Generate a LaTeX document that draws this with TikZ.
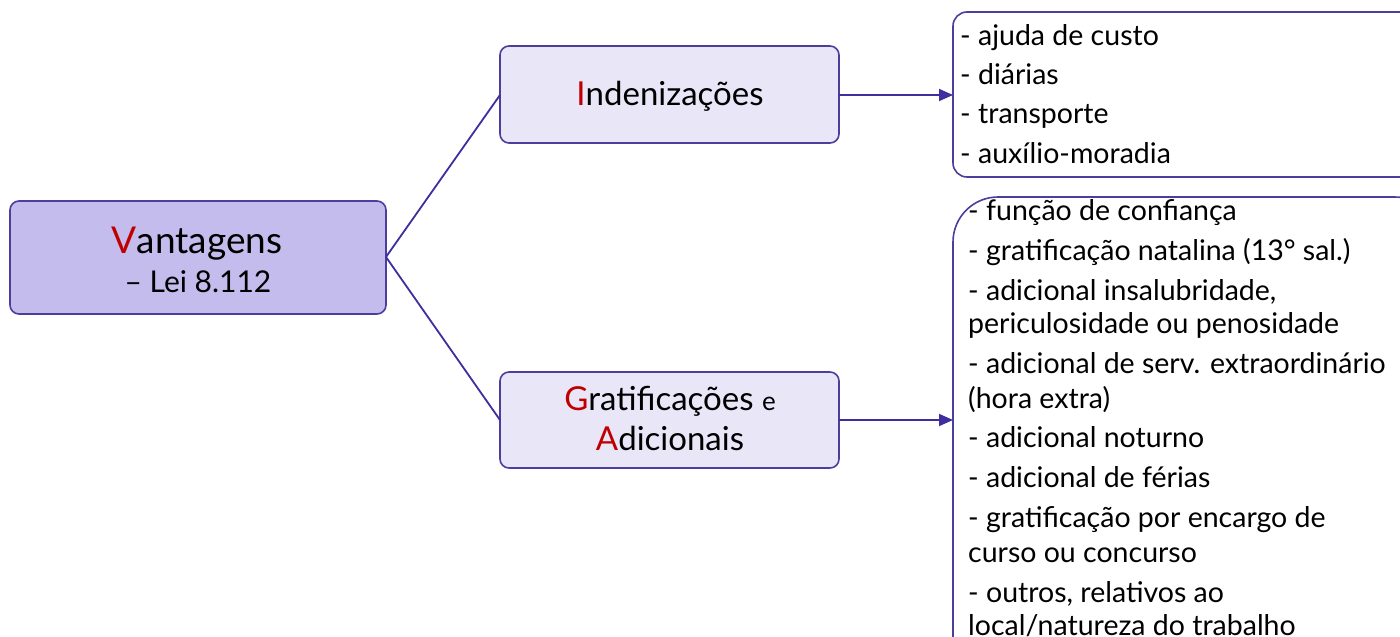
\documentclass[tikz,border=0pt]{standalone}
\usepackage{fontspec}
\setmainfont{Lato}
\usetikzlibrary{arrows.meta}
\definecolor{bord}{HTML}{4A3F9C}
\definecolor{lnk}{HTML}{3E2E9E}
\definecolor{mainfill}{HTML}{C3BCEC}
\definecolor{subfill}{HTML}{E9E6F8}
\definecolor{redl}{HTML}{C00000}
\tikzset{
  box/.style={draw=bord, line width=1.6pt, rounded corners=9pt},
  conn/.style={draw=lnk, line width=1.8pt},
  arr/.style={conn, -{Triangle[length=14pt,width=12pt]}},
  item/.style={anchor=base west, inner sep=0pt, font=\fontsize{28.5}{32}\selectfont},
  title/.style={anchor=base, inner sep=0pt, font=\fontsize{33}{38}\selectfont},
}
\newcommand{\R}[1]{\textcolor{redl}{#1}}
\begin{document}
\begin{tikzpicture}[x=1pt,y=-1pt]
\useasboundingbox (0,0) rectangle (1400,637);
\clip (0,0) rectangle (1400,637);
% main node
\draw[box, fill=mainfill] (10,201) rectangle (386,314);
\node[title, font=\fontsize{37}{42}\selectfont] (vt) at (197,253) {\R{V}antagens};
\node[title, font=\fontsize{30}{34}\selectfont] (vl) at (198,292) {-- Lei 8.112};
\coordinate (vR) at (386,257);
% Indenizacoes
\draw[box, fill=subfill] (500,46) rectangle (839,143);
\node[title] (ind) at (670,105) {\R{I}ndenizações};
\coordinate (iL) at (500,95);
\coordinate (iR) at (839,95);
% Gratificacoes
\draw[box, fill=subfill] (500,372) rectangle (839,468);
\node[title] (gr1) at (670,410) {\R{G}ratificações {\fontsize{26}{30}\selectfont e}};
\node[title] (gr2) at (670,450) {\R{A}dicionais};
\coordinate (gL) at (500,420);
\coordinate (gR) at (839,420);
% list boxes
\draw[box, fill=white, rounded corners=14pt] (953,12) rectangle (1440,177);
\coordinate (l1) at (953,95);
\draw[box, fill=white, rounded corners=45pt] (953,197) rectangle (1440,700);
\coordinate (l2) at (953,420);
% connectors
\draw[conn] (vR) -- (iL);
\draw[conn] (vR) -- (gL);
\draw[arr] (iR) -- (l1);
\draw[arr] (gR) -- (l2);
% items top
\node[item] (a1) at (960,45) {- ajuda de custo};
\node[item] (a2) at (960,84) {- diárias};
\node[item] (a3) at (960,123) {- transporte};
\node[item] (a4) at (960,163) {- auxílio-moradia};
% items bottom
\node[item] (b1) at (968,220) {- função de confiança};
\node[item] (b2) at (968,260) {- gratificação natalina (13° sal.)};
\node[item] (b3) at (968,300) {- adicional insalubridade,};
\node[item] (b4) at (968,333) {periculosidade ou penosidade};
\node[item] (b5) at (968,373) {- adicional de serv. extraordinário};
\node[item] (b6) at (968,408) {(hora extra)};
\node[item] (b7) at (968,447) {- adicional noturno};
\node[item] (b8) at (968,487) {- adicional de férias};
\node[item] (b9) at (968,527) {- gratificação por encargo de};
\node[item] (b10) at (968,562) {curso ou concurso};
\node[item] (b11) at (968,602) {- outros, relativos ao};
\node[item] (b12) at (968,635) {local/natureza do trabalho};
\end{tikzpicture}
\end{document}
